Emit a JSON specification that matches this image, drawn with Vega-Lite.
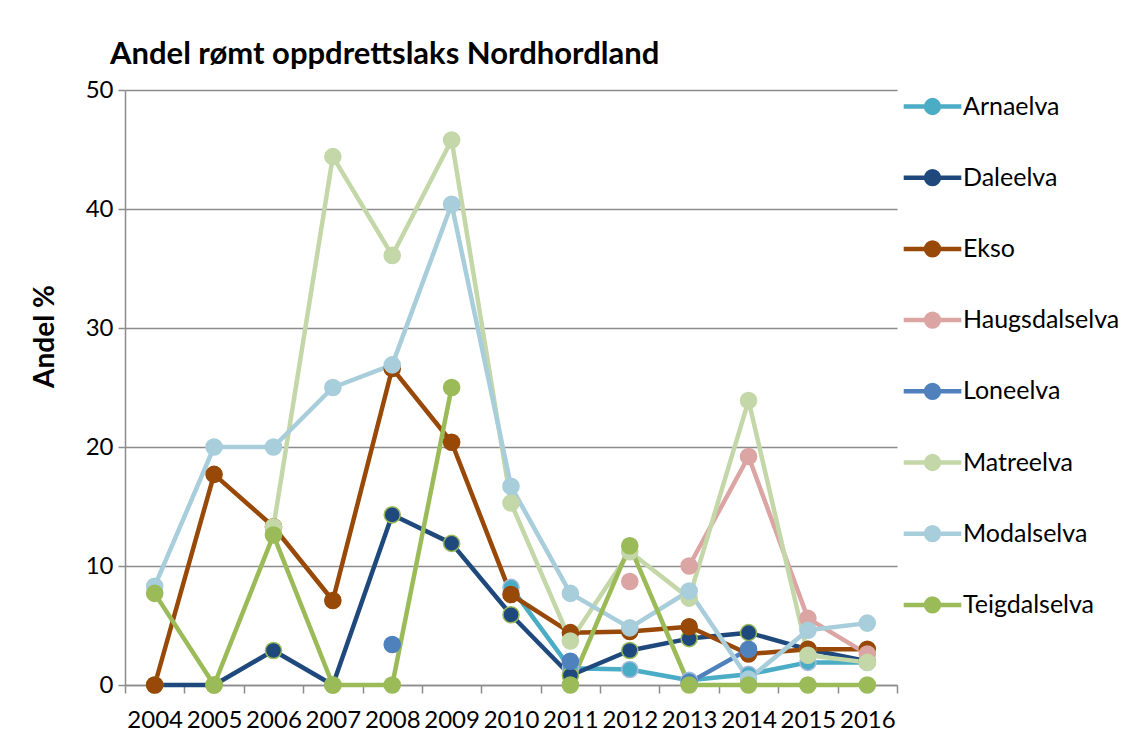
{
  "$schema": "https://vega.github.io/schema/vega-lite/v6.json",
  "width": 772,
  "height": 595,
  "autosize": {"type": "none"},
  "padding": {"left": 125, "top": 90, "right": 234, "bottom": 56},
  "background": "white",
  "title": {
    "text": "Andel rømt oppdrettslaks Nordhordland",
    "anchor": "start",
    "frame": "group",
    "font": "Lato",
    "fontSize": 31,
    "fontWeight": "bold",
    "color": "black",
    "dx": -15,
    "offset": 7
  },
  "data": {
    "values": [
      {"year": "2010", "river": "Arnaelva", "value": 8.2, "seg": 1},
      {"year": "2011", "river": "Arnaelva", "value": 1.4, "seg": 1},
      {"year": "2012", "river": "Arnaelva", "value": 1.3, "seg": 1},
      {"year": "2013", "river": "Arnaelva", "value": 0.4, "seg": 1},
      {"year": "2014", "river": "Arnaelva", "value": 0.9, "seg": 1},
      {"year": "2015", "river": "Arnaelva", "value": 1.9, "seg": 1},
      {"year": "2016", "river": "Arnaelva", "value": 1.9, "seg": 1},

      {"year": "2004", "river": "Daleelva", "value": 0, "seg": 1},
      {"year": "2005", "river": "Daleelva", "value": 0, "seg": 1},
      {"year": "2006", "river": "Daleelva", "value": 2.9, "seg": 1},
      {"year": "2007", "river": "Daleelva", "value": 0, "seg": 1},
      {"year": "2008", "river": "Daleelva", "value": 14.3, "seg": 1},
      {"year": "2009", "river": "Daleelva", "value": 11.9, "seg": 1},
      {"year": "2010", "river": "Daleelva", "value": 5.9, "seg": 1},
      {"year": "2011", "river": "Daleelva", "value": 0.8, "seg": 1},
      {"year": "2012", "river": "Daleelva", "value": 2.9, "seg": 1},
      {"year": "2013", "river": "Daleelva", "value": 3.9, "seg": 1},
      {"year": "2014", "river": "Daleelva", "value": 4.4, "seg": 1},
      {"year": "2015", "river": "Daleelva", "value": 3.0, "seg": 1},
      {"year": "2016", "river": "Daleelva", "value": 2.0, "seg": 1},

      {"year": "2004", "river": "Ekso", "value": 0, "seg": 1},
      {"year": "2005", "river": "Ekso", "value": 17.7, "seg": 1},
      {"year": "2006", "river": "Ekso", "value": 13.3, "seg": 1},
      {"year": "2007", "river": "Ekso", "value": 7.1, "seg": 1},
      {"year": "2008", "river": "Ekso", "value": 26.6, "seg": 1},
      {"year": "2009", "river": "Ekso", "value": 20.4, "seg": 1},
      {"year": "2010", "river": "Ekso", "value": 7.6, "seg": 1},
      {"year": "2011", "river": "Ekso", "value": 4.4, "seg": 1},
      {"year": "2012", "river": "Ekso", "value": 4.5, "seg": 1},
      {"year": "2013", "river": "Ekso", "value": 4.9, "seg": 1},
      {"year": "2014", "river": "Ekso", "value": 2.6, "seg": 1},
      {"year": "2015", "river": "Ekso", "value": 3.0, "seg": 1},
      {"year": "2016", "river": "Ekso", "value": 3.0, "seg": 1},

      {"year": "2012", "river": "Haugsdalselva", "value": 8.7, "seg": 1},
      {"year": "2013", "river": "Haugsdalselva", "value": 10.0, "seg": 2},
      {"year": "2014", "river": "Haugsdalselva", "value": 19.2, "seg": 2},
      {"year": "2015", "river": "Haugsdalselva", "value": 5.6, "seg": 2},
      {"year": "2016", "river": "Haugsdalselva", "value": 2.6, "seg": 2},

      {"year": "2008", "river": "Loneelva", "value": 3.4, "seg": 1},
      {"year": "2011", "river": "Loneelva", "value": 2.0, "seg": 2},
      {"year": "2013", "river": "Loneelva", "value": 0.2, "seg": 3},
      {"year": "2014", "river": "Loneelva", "value": 3.0, "seg": 3},

      {"year": "2006", "river": "Matreelva", "value": 13.3, "seg": 1},
      {"year": "2007", "river": "Matreelva", "value": 44.4, "seg": 1},
      {"year": "2008", "river": "Matreelva", "value": 36.1, "seg": 1},
      {"year": "2009", "river": "Matreelva", "value": 45.8, "seg": 1},
      {"year": "2010", "river": "Matreelva", "value": 15.3, "seg": 1},
      {"year": "2011", "river": "Matreelva", "value": 3.7, "seg": 1},
      {"year": "2012", "river": "Matreelva", "value": 11.2, "seg": 1},
      {"year": "2013", "river": "Matreelva", "value": 7.3, "seg": 1},
      {"year": "2014", "river": "Matreelva", "value": 23.9, "seg": 1},
      {"year": "2015", "river": "Matreelva", "value": 2.5, "seg": 1},
      {"year": "2016", "river": "Matreelva", "value": 1.9, "seg": 1},

      {"year": "2004", "river": "Modalselva", "value": 8.3, "seg": 1},
      {"year": "2005", "river": "Modalselva", "value": 20.0, "seg": 1},
      {"year": "2006", "river": "Modalselva", "value": 20.0, "seg": 1},
      {"year": "2007", "river": "Modalselva", "value": 25.0, "seg": 1},
      {"year": "2008", "river": "Modalselva", "value": 26.9, "seg": 1},
      {"year": "2009", "river": "Modalselva", "value": 40.4, "seg": 1},
      {"year": "2010", "river": "Modalselva", "value": 16.7, "seg": 1},
      {"year": "2011", "river": "Modalselva", "value": 7.7, "seg": 1},
      {"year": "2012", "river": "Modalselva", "value": 4.8, "seg": 1},
      {"year": "2013", "river": "Modalselva", "value": 7.9, "seg": 1},
      {"year": "2014", "river": "Modalselva", "value": 0.5, "seg": 1},
      {"year": "2015", "river": "Modalselva", "value": 4.6, "seg": 1},
      {"year": "2016", "river": "Modalselva", "value": 5.2, "seg": 1},

      {"year": "2004", "river": "Teigdalselva", "value": 7.7, "seg": 1},
      {"year": "2005", "river": "Teigdalselva", "value": 0, "seg": 1},
      {"year": "2006", "river": "Teigdalselva", "value": 12.6, "seg": 1},
      {"year": "2007", "river": "Teigdalselva", "value": 0, "seg": 1},
      {"year": "2008", "river": "Teigdalselva", "value": 0, "seg": 1},
      {"year": "2009", "river": "Teigdalselva", "value": 25.0, "seg": 1},
      {"year": "2011", "river": "Teigdalselva", "value": 0, "seg": 2},
      {"year": "2012", "river": "Teigdalselva", "value": 11.7, "seg": 2},
      {"year": "2013", "river": "Teigdalselva", "value": 0, "seg": 2},
      {"year": "2014", "river": "Teigdalselva", "value": 0, "seg": 2},
      {"year": "2015", "river": "Teigdalselva", "value": 0, "seg": 2},
      {"year": "2016", "river": "Teigdalselva", "value": 0, "seg": 2}
    ]
  },
  "encoding": {
    "x": {
      "field": "year",
      "type": "ordinal",
      "bandPosition": 0.5,
      "scale": {
        "type": "band",
        "paddingInner": 0,
        "paddingOuter": 0,
        "domain": ["2004","2005","2006","2007","2008","2009","2010","2011","2012","2013","2014","2015","2016"]
      },
      "axis": {
        "title": null,
        "tickBand": "extent",
        "labelAngle": 0,
        "grid": false,
        "domainColor": "#8c8c8c",
        "domainWidth": 1.5,
        "tickColor": "#8c8c8c",
        "tickWidth": 1.5,
        "tickSize": 8,
        "labelFont": "Lato",
        "labelFontSize": 24,
        "labelColor": "black",
        "labelPadding": 15
      }
    },
    "y": {
      "field": "value",
      "type": "quantitative",
      "scale": {"domain": [0, 50], "nice": false},
      "axis": {
        "title": "Andel %",
        "values": [0, 10, 20, 30, 40, 50],
        "grid": true,
        "gridColor": "#8c8c8c",
        "gridWidth": 1.5,
        "domainColor": "#8c8c8c",
        "domainWidth": 1.5,
        "tickColor": "#8c8c8c",
        "tickWidth": 1.5,
        "tickSize": 7,
        "labelFont": "Lato",
        "labelFontSize": 24,
        "labelColor": "black",
        "labelPadding": 5,
        "titleFont": "Lato",
        "titleFontSize": 28,
        "titleFontWeight": "bold",
        "titleColor": "black",
        "titleX": -80,
        "titleY": 246,
        "titleAngle": -90,
        "titleAlign": "center",
        "titleBaseline": "middle"
      }
    },
    "color": {
      "field": "river",
      "type": "nominal",
      "scale": {
        "domain": ["Arnaelva","Daleelva","Ekso","Haugsdalselva","Loneelva","Matreelva","Modalselva","Teigdalselva"],
        "range": ["#4BACC6","#1F497D","#984807","#DBA5A4","#4F81BD","#C4D7A8","#A8CDDB","#9BBB59"]
      },
      "legend": {
        "title": null,
        "orient": "none",
        "legendX": 795,
        "legendY": 4,
        "padding": 0,
        "labelFont": "Lato",
        "labelFontSize": 25,
        "labelColor": "black",
        "labelOffset": 18,
        "rowPadding": 40.2,
        "symbolSize": 256,
        "symbolType": "M-3.6,0H3.6M0.8,0A0.8,0.8 0 1,1 -0.8,0A0.8,0.8 0 1,1 0.8,0Z",
        "symbolStrokeWidth": 4.5,
        "symbolOpacity": 1,
        "symbolLimit": 0,
        "encode": {
          "symbols": {
            "update": {
              "fill": {"scale": "color", "field": "value"},
              "stroke": {"scale": "color", "field": "value"},
              "opacity": {"value": 1}
            }
          }
        }
      }
    }
  },
  "layer": [
    {
      "mark": {"type": "line", "strokeWidth": 4.5, "strokeJoin": "round"},
      "encoding": {"detail": {"field": "seg", "type": "nominal"}}
    },
    {
      "mark": {"type": "point", "filled": true, "size": 260, "opacity": 1, "strokeWidth": 1.5},
      "encoding": {
        "stroke": {
          "field": "river",
          "type": "nominal",
          "scale": {
            "domain": ["Arnaelva","Daleelva","Ekso","Haugsdalselva","Loneelva","Matreelva","Modalselva","Teigdalselva"],
            "range": ["#A9B9DD","#9BBB59","#984807","#DBA5A4","#4F81BD","#C4D7A8","#A8CDDB","#9BBB59"]
          },
          "legend": null
        }
      }
    }
  ],
  "config": {
    "view": {"stroke": null},
    "font": "Lato"
  }
}
